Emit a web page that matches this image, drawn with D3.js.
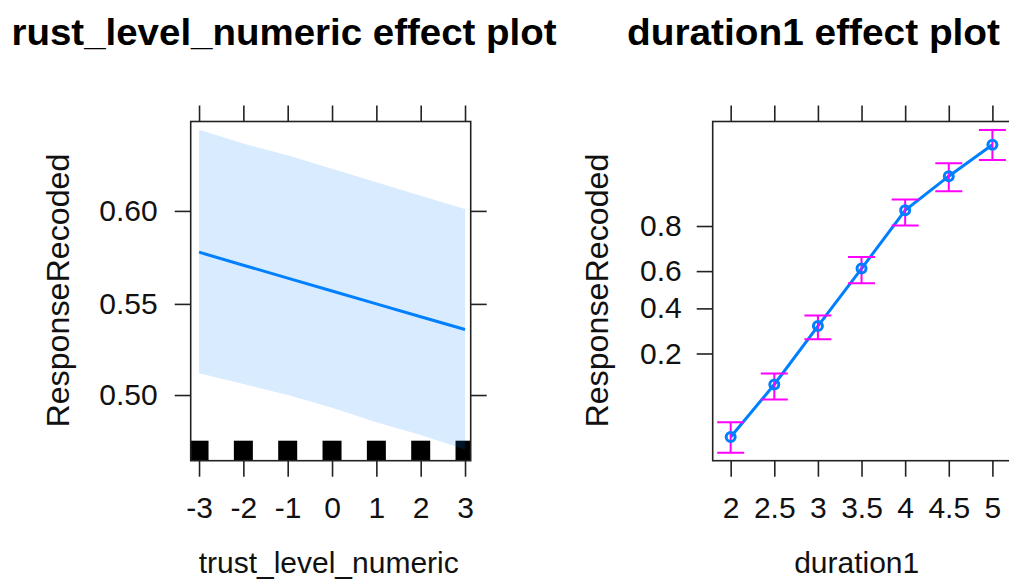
<!DOCTYPE html>
<html>
<head>
<meta charset="utf-8">
<script src="https://cdn.jsdelivr.net/npm/d3@7"></script>
<style>
  html, body { margin: 0; padding: 0; background: #fff; }
  svg { display: block; font-family: "Liberation Sans", Arial, sans-serif; }
  .frame { fill: none; stroke: #222; stroke-width: 1.6; }
  .axis line { stroke: #222; stroke-width: 1.6; }
  .axis text { fill: #111; }
</style>
</head>
<body>
<svg id="chart" width="1009" height="581"></svg>
<script>
// effect plots on the logit (response) scale

// left panel: trust_level_numeric
const trustX     = [-3, -2, -1, 0, 1, 2, 3];
const trustFit   = [0.578, 0.571, 0.564, 0.557, 0.550, 0.543, 0.536];
const trustLower = [0.512, 0.506, 0.500, 0.493, 0.485, 0.478, 0.470];
const trustUpper = [0.642, 0.635, 0.629, 0.622, 0.615, 0.608, 0.601];
const trustRug   = [-3, -2, -1, 0, 1, 2, 3];
const trustTicksX = [-3, -2, -1, 0, 1, 2, 3];
const trustTicksY = [0.50, 0.55, 0.60];

// right panel: duration1
const durX     = [2, 2.5, 3, 3.5, 4, 4.5, 5];
const durFit   = [0.039, 0.113, 0.312, 0.613, 0.849, 0.922, 0.959];
const durLower = [0.028, 0.084, 0.254, 0.535, 0.802, 0.895, 0.944];
const durUpper = [0.053, 0.139, 0.363, 0.671, 0.877, 0.940, 0.970];
const durTicksX = [2, 2.5, 3, 3.5, 4, 4.5, 5];
const durTicksY = [0.2, 0.4, 0.6, 0.8];

const BLUE = "#0080ff";
const PINK = "#ff00ff";
const logit = p => Math.log(p / (1 - p));

const svg = d3.select("#chart");
const plotTop = 121.5, plotBottom = 460.7;

function styleAxis(g, size) {
  g.select(".domain").remove();
  g.attr("font-size", size).attr("font-family", "'Liberation Sans', Arial, sans-serif");
}

function panel(opts) {
  const x = d3.scaleLinear().domain(opts.xDomain).range([opts.left, opts.right]);
  const yL = d3.scaleLinear().domain(opts.yDomain.map(logit)).range([plotBottom, plotTop]);
  const y = p => yL(logit(p));
  const w = opts.right - opts.left;

  const clipId = "clip-" + opts.id;
  svg.append("clipPath").attr("id", clipId)
    .append("rect").attr("x", opts.left).attr("y", plotTop)
    .attr("width", w).attr("height", plotBottom - plotTop);

  const plot = svg.append("g").attr("clip-path", `url(#${clipId})`);

  // axes (R style: plain hyphen for negatives)
  svg.append("g").attr("class", "axis")
    .attr("transform", `translate(0,${plotTop})`)
    .call(d3.axisTop(x).tickValues(opts.ticksX).tickSize(16).tickFormat(""))
    .call(styleAxis, 30);
  svg.append("g").attr("class", "axis")
    .attr("transform", `translate(0,${plotBottom})`)
    .call(d3.axisBottom(x).tickValues(opts.ticksX).tickSize(16).tickPadding(20).tickFormat(d => String(d)))
    .call(styleAxis, 30);
  svg.append("g").attr("class", "axis")
    .attr("transform", `translate(${opts.left},0)`)
    .call(d3.axisLeft(yL).tickValues(opts.ticksY.map(logit)).tickSize(16)
      .tickPadding(opts.yPad).tickFormat(v => d3.format(opts.yFmt)(1 / (1 + Math.exp(-v)))))
    .call(styleAxis, 30);
  if (opts.rightTicks) {
    svg.append("g").attr("class", "axis")
      .attr("transform", `translate(${opts.right},0)`)
      .call(d3.axisRight(yL).tickValues(opts.ticksY.map(logit)).tickSize(16).tickFormat(""))
      .call(styleAxis, 30);
  }

  svg.append("text")
    .attr("transform", `translate(${opts.yLabelX},${(plotTop + plotBottom) / 2 - 0.5}) rotate(-90)`)
    .attr("text-anchor", "middle").attr("dominant-baseline", "central")
    .attr("font-size", 32).attr("fill", "#111")
    .attr("textLength", 274).attr("lengthAdjust", "spacingAndGlyphs")
    .text("ResponseRecoded");

  svg.append("text")
    .attr("x", opts.left + opts.xLabelShift).attr("y", 573)
    .attr("text-anchor", "middle").attr("font-size", 30).attr("fill", "#111")
    .text(opts.xLabel);

  svg.append("text")
    .attr("x", opts.titleX).attr("y", 44.5)
    .attr("font-size", 36).attr("font-weight", "bold").attr("fill", "#000")
    .attr("textLength", opts.titleLen).attr("lengthAdjust", "spacingAndGlyphs")
    .text(opts.title);

  return { x, y, plot };
}

// ---- left panel ----
const L = panel({
  id: "trust", left: 190.7, right: 470.7,
  xDomain: [-3.188, 3.128], yDomain: [0.4639, 0.6462],
  ticksX: trustTicksX, ticksY: trustTicksY,
  yFmt: ".2f", yPad: 17, rightTicks: true,
  yLabelX: 57.5, xLabel: "trust_level_numeric", xLabelShift: 138,
  title: "rust_level_numeric effect plot", titleX: 11.5, titleLen: 545
});

L.plot.selectAll("rect.rug").data(trustRug).join("rect")
  .attr("class", "rug")
  .attr("x", d => L.x(d) - 9.5).attr("y", plotBottom - 20)
  .attr("width", 19).attr("height", 20).attr("fill", "#000");

const trustRows = trustX.map((v, i) => ({ x: v, fit: trustFit[i], lo: trustLower[i], hi: trustUpper[i] }));

L.plot.append("path").datum(trustRows)
  .attr("fill", BLUE).attr("fill-opacity", 0.15)
  .attr("d", d3.area().x(d => L.x(d.x)).y0(d => L.y(d.lo)).y1(d => L.y(d.hi)));

L.plot.append("path").datum(trustRows)
  .attr("fill", "none").attr("stroke", BLUE).attr("stroke-width", 3)
  .attr("d", d3.line().x(d => L.x(d.x)).y(d => L.y(d.fit)));

svg.append("rect").attr("class", "frame")
  .attr("x", 190.7).attr("y", plotTop).attr("width", 280).attr("height", plotBottom - plotTop);

// ---- right panel ----
const R = panel({
  id: "dur", left: 712.7, right: 1030,
  xDomain: [1.794, 5.431], yDomain: [0.0237, 0.9749],
  ticksX: durTicksX, ticksY: durTicksY,
  yFmt: ".1f", yPad: 15, rightTicks: false,
  yLabelX: 596.7, xLabel: "duration1", xLabelShift: 144,
  title: "duration1 effect plot", titleX: 627, titleLen: 373
});

const durRows = durX.map((v, i) => ({ x: v, fit: durFit[i], lo: durLower[i], hi: durUpper[i] }));

R.plot.append("path").datum(durRows)
  .attr("fill", "none").attr("stroke", BLUE).attr("stroke-width", 3)
  .attr("d", d3.line().x(d => R.x(d.x)).y(d => R.y(d.fit)));

const bars = R.plot.selectAll("g.err").data(durRows).join("g").attr("class", "err")
  .attr("stroke", PINK).attr("stroke-width", 2);
bars.append("line")
  .attr("x1", d => R.x(d.x)).attr("x2", d => R.x(d.x))
  .attr("y1", d => R.y(d.lo)).attr("y2", d => R.y(d.hi));
bars.append("line")
  .attr("x1", d => R.x(d.x) - 13.5).attr("x2", d => R.x(d.x) + 13.5)
  .attr("y1", d => R.y(d.lo)).attr("y2", d => R.y(d.lo));
bars.append("line")
  .attr("x1", d => R.x(d.x) - 13.5).attr("x2", d => R.x(d.x) + 13.5)
  .attr("y1", d => R.y(d.hi)).attr("y2", d => R.y(d.hi));

R.plot.selectAll("circle.pt").data(durRows).join("circle")
  .attr("class", "pt")
  .attr("cx", d => R.x(d.x)).attr("cy", d => R.y(d.fit)).attr("r", 4.5)
  .attr("fill", "none").attr("stroke", BLUE).attr("stroke-width", 3);

svg.append("rect").attr("class", "frame")
  .attr("x", 712.7).attr("y", plotTop).attr("width", 340).attr("height", plotBottom - plotTop);
</script>
</body>
</html>
